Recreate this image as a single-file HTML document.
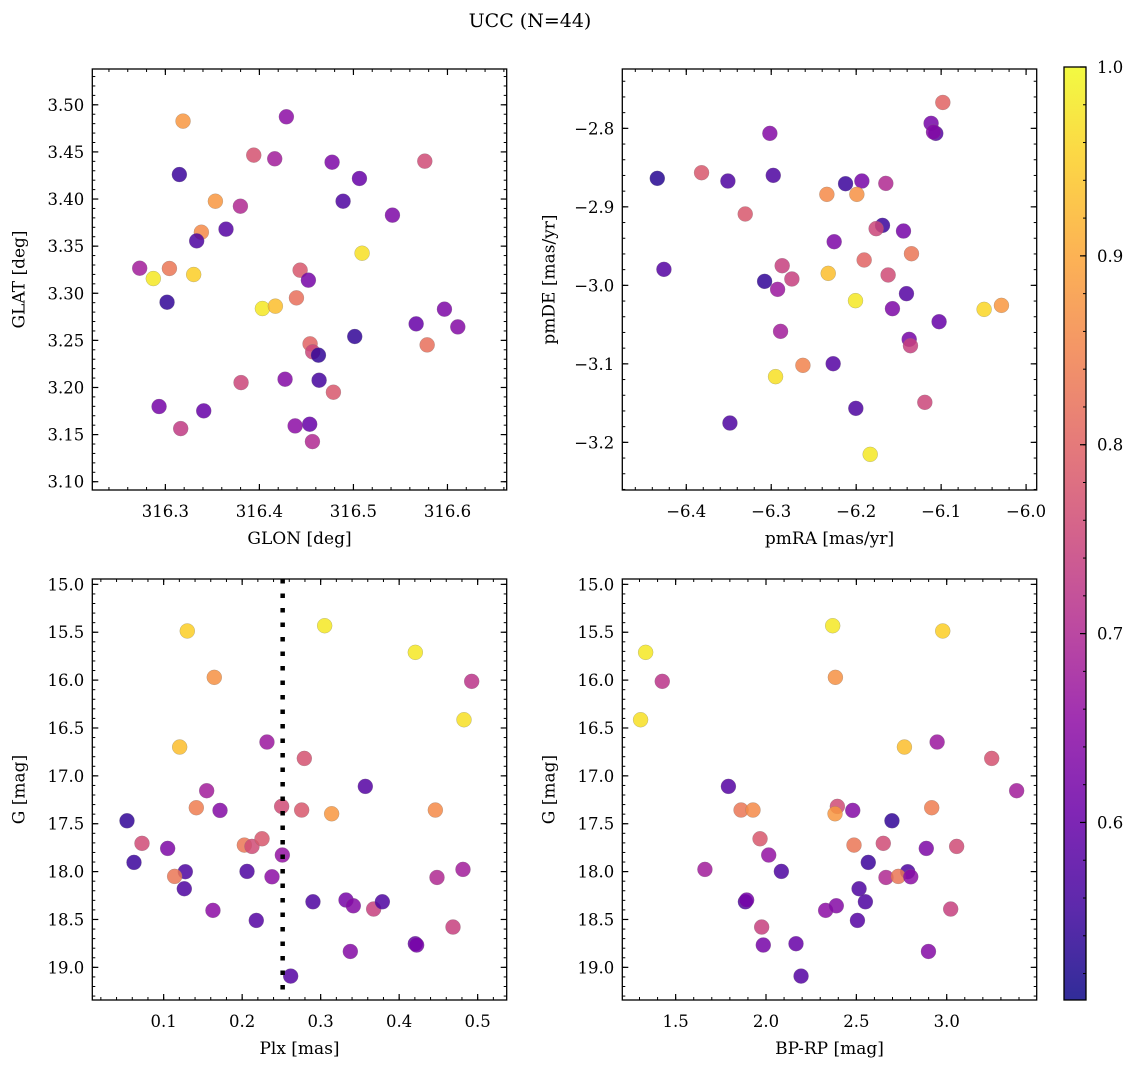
<!DOCTYPE html>
<html><head><meta charset="utf-8"><style>
html,body{margin:0;padding:0;background:#fff;}
svg{display:block;font-family:"DejaVu Serif","Liberation Serif",serif;}
</style></head><body>
<svg id="fig" width="1136" height="1067" viewBox="0 0 1136 1067" xmlns="http://www.w3.org/2000/svg">
<defs>
<linearGradient id="plasma" x1="0" y1="1" x2="0" y2="0">
<stop offset="0" stop-color="#0d0887"/><stop offset="0.1" stop-color="#41049d"/><stop offset="0.2" stop-color="#6a00a8"/><stop offset="0.3" stop-color="#8f0da4"/><stop offset="0.4" stop-color="#b12a90"/><stop offset="0.5" stop-color="#cc4778"/><stop offset="0.6" stop-color="#e16462"/><stop offset="0.7" stop-color="#f2844b"/><stop offset="0.8" stop-color="#fca636"/><stop offset="0.9" stop-color="#fcce25"/><stop offset="1" stop-color="#f0f921"/>
</linearGradient>
</defs>
<text x="530" y="27" font-size="19" text-anchor="middle">UCC (N=44)</text>
</svg>
<script>
// Panel 1: GLON vs GLAT
const glonVals=[316.3188,316.4287,316.394,316.4163,316.4773,316.5759,316.3149,316.5064,316.3532,316.489,316.3798,316.5415,316.3645,316.3383,316.3333,316.5092,316.2727,316.3043,316.2872,316.3301,316.4433,316.4521,316.3018,316.4032,316.417,316.4394,316.5667,316.5968,316.611,316.5014,316.5784,316.4539,316.4567,316.4628,316.3805,316.4273,316.4635,316.4787,316.2933,316.3408,316.3163,316.438,316.4535,316.4564];
const glatVals=[3.4827,3.4873,3.4466,3.4427,3.4391,3.4402,3.426,3.4218,3.3977,3.3977,3.3924,3.3829,3.368,3.3648,3.3556,3.3425,3.3266,3.3263,3.3156,3.3199,3.3245,3.3139,3.2905,3.2838,3.2863,3.2951,3.2675,3.2831,3.2643,3.2541,3.2452,3.2463,3.2378,3.2343,3.2052,3.2088,3.2077,3.195,3.1798,3.1752,3.1564,3.1592,3.161,3.1426];
const probP1=[0.88,0.65,0.77,0.68,0.63,0.76,0.55,0.6,0.88,0.57,0.7,0.63,0.58,0.86,0.57,0.97,0.68,0.83,0.98,0.95,0.78,0.62,0.54,0.98,0.93,0.82,0.6,0.63,0.64,0.54,0.82,0.8,0.75,0.54,0.75,0.64,0.56,0.78,0.62,0.6,0.73,0.65,0.6,0.7];
// Panel 2: pmRA vs pmDE
const pmraVals=[-6.098,-6.1118,-6.1063,-6.109,-6.3016,-6.4341,-6.382,-6.351,-6.2976,-6.2125,-6.1933,-6.1651,-6.2345,-6.1992,-6.3306,-6.169,-6.1765,-6.1443,-6.2259,-6.1349,-6.1906,-6.2871,-6.2757,-6.2329,-6.1624,-6.4263,-6.3078,-6.2925,-6.1408,-6.2008,-6.1573,-6.0494,-6.029,-6.1024,-6.289,-6.1376,-6.1361,-6.2627,-6.2949,-6.2271,-6.1192,-6.2004,-6.3486,-6.1835];
const pmdeVals=[-2.767,-2.7936,-2.8064,-2.8047,-2.8064,-2.8637,-2.8565,-2.8671,-2.8599,-2.8705,-2.8671,-2.8701,-2.8841,-2.8841,-2.9091,-2.9236,-2.9278,-2.9308,-2.9444,-2.9597,-2.9677,-2.975,-2.9919,-2.9847,-2.9868,-2.9796,-2.9949,-3.0051,-3.0106,-3.0195,-3.0297,-3.0306,-3.0255,-3.0463,-3.0586,-3.0688,-3.0769,-3.1019,-3.1163,-3.0998,-3.149,-3.1567,-3.1754,-3.2153];
const probP2=[0.8,0.62,0.58,0.64,0.64,0.53,0.78,0.57,0.57,0.55,0.62,0.7,0.86,0.87,0.78,0.55,0.75,0.62,0.63,0.83,0.8,0.74,0.74,0.93,0.76,0.58,0.54,0.67,0.58,0.98,0.63,0.96,0.88,0.6,0.68,0.62,0.74,0.85,0.97,0.58,0.75,0.57,0.57,0.98];
// Panel 3: Plx vs G
const plxVals=[0.1301,0.3051,0.4206,0.1645,0.4924,0.4826,0.1204,0.2316,0.2792,0.3569,0.1548,0.1416,0.1718,0.2503,0.2758,0.314,0.4461,0.0533,0.0724,0.1051,0.2028,0.2125,0.2253,0.2512,0.0622,0.1276,0.114,0.1263,0.2062,0.238,0.4482,0.4813,0.2902,0.3323,0.3416,0.3675,0.3786,0.1628,0.218,0.4686,0.4206,0.4223,0.3378,0.2618];
const gMagP3=[15.487,15.432,15.71,15.971,16.013,16.414,16.699,16.647,16.818,17.11,17.155,17.333,17.361,17.319,17.357,17.396,17.357,17.469,17.705,17.758,17.723,17.737,17.657,17.827,17.904,18.001,18.05,18.179,17.998,18.054,18.061,17.977,18.315,18.297,18.357,18.391,18.315,18.405,18.51,18.579,18.753,18.767,18.834,19.091];
const probP3=[0.95,0.98,0.98,0.87,0.72,0.97,0.93,0.67,0.77,0.58,0.68,0.84,0.64,0.76,0.78,0.88,0.86,0.54,0.76,0.63,0.83,0.76,0.78,0.66,0.55,0.57,0.83,0.57,0.57,0.65,0.7,0.68,0.57,0.62,0.64,0.74,0.57,0.65,0.58,0.74,0.6,0.62,0.64,0.58];
const plxLine=0.2516;
// Panel 4: BP-RP vs G
const bprpVals=[1.334,2.369,2.978,1.426,2.384,1.306,2.766,2.947,3.249,1.792,3.387,1.862,1.928,2.395,2.382,2.48,2.917,2.697,1.967,2.487,2.649,2.887,3.055,2.015,1.662,2.085,2.566,2.784,2.664,2.732,2.801,2.515,1.886,1.893,2.55,2.33,2.389,3.022,2.506,1.976,1.985,2.166,2.899,2.194];
const gMagP4=[15.71,15.432,15.487,16.013,15.971,16.414,16.699,16.647,16.818,17.11,17.155,17.357,17.357,17.319,17.396,17.361,17.333,17.469,17.657,17.723,17.705,17.758,17.737,17.827,17.977,17.998,17.904,18.001,18.061,18.05,18.054,18.179,18.315,18.297,18.315,18.405,18.357,18.391,18.51,18.579,18.767,18.753,18.834,19.091];
const probP4=[0.98,0.98,0.95,0.72,0.87,0.97,0.93,0.67,0.77,0.58,0.68,0.83,0.86,0.76,0.88,0.64,0.84,0.54,0.78,0.83,0.76,0.63,0.76,0.66,0.68,0.57,0.55,0.57,0.7,0.83,0.65,0.57,0.57,0.62,0.57,0.65,0.64,0.74,0.58,0.74,0.62,0.6,0.64,0.58];
// Colorbar
const cbarTicks=[0.6,0.7,0.8,0.9,1.0];
const cMin=0.506, cMax=1.0;

const NS="http://www.w3.org/2000/svg";
const svg=document.getElementById('fig');
function mk(tag,attrs,parent){const e=document.createElementNS(NS,tag);for(const k in attrs)e.setAttribute(k,attrs[k]);(parent||svg).appendChild(e);return e;}
const stops=[[0,[13,8,135]],[0.1,[65,4,157]],[0.2,[106,0,168]],[0.3,[143,13,164]],[0.4,[177,42,144]],[0.5,[204,71,120]],[0.6,[225,100,98]],[0.7,[242,132,75]],[0.8,[252,166,54]],[0.9,[252,206,37]],[1,[240,249,33]]];
function plasma(v){let t=(v-cMin)/(cMax-cMin);t=Math.max(0,Math.min(1,t));for(let i=0;i<stops.length-1;i++){if(t<=stops[i+1][0]){const f=(t-stops[i][0])/(stops[i+1][0]-stops[i][0]);const a=stops[i][1],b=stops[i+1][1];return 'rgb('+a.map((c,j)=>Math.round(c+(b[j]-c)*f)).join(',')+')';}}return 'rgb(240,249,33)';}
function fmt(v,d){const s=Math.abs(v).toFixed(d);return (v<-1e-9?'\u2212':'')+s;}

const panels=[
 {name:'glon-glat',L:92.3,R:506.7,T:69,B:490,xmin:316.2223,xmax:316.663,ymin:3.0912,ymax:3.538,inv:false,xt:[316.3,316.4,316.5,316.6],xd:1,xm:0.02,yt:[3.10,3.15,3.20,3.25,3.30,3.35,3.40,3.45,3.50],yd:2,ym:0.01,xl:'GLON [deg]',yl:'GLAT [deg]',X:glonVals,Y:glatVals,C:probP1},
 {name:'pmra-pmde',L:622.3,R:1036.7,T:69,B:490,xmin:-6.4753,xmax:-5.9875,ymin:-3.2607,ymax:-2.7244,inv:false,xt:[-6.4,-6.3,-6.2,-6.1,-6.0],xd:1,xm:0.02,yt:[-3.2,-3.1,-3.0,-2.9,-2.8],yd:1,ym:0.02,xl:'pmRA [mas/yr]',yl:'pmDE [mas/yr]',X:pmraVals,Y:pmdeVals,C:probP2},
 {name:'plx-g',L:92.3,R:506.7,T:579,B:1000,xmin:0.0091,xmax:0.537,ymin:14.944,ymax:19.341,inv:true,xt:[0.1,0.2,0.3,0.4,0.5],xd:1,xm:0.02,yt:[15,15.5,16,16.5,17,17.5,18,18.5,19],yd:1,ym:0.1,xl:'Plx [mas]',yl:'G [mag]',X:plxVals,Y:gMagP3,C:probP3,vline:plxLine},
 {name:'bprp-g',L:622.3,R:1036.7,T:579,B:1000,xmin:1.2048,xmax:3.498,ymin:14.944,ymax:19.341,inv:true,xt:[1.5,2.0,2.5,3.0],xd:1,xm:0.1,yt:[15,15.5,16,16.5,17,17.5,18,18.5,19],yd:1,ym:0.1,xl:'BP-RP [mag]',yl:'G [mag]',X:bprpVals,Y:gMagP4,C:probP4}
];
panels.forEach(p=>{
 const g=mk('g',{});
 
 
 const sx=v=>p.L+(v-p.xmin)/(p.xmax-p.xmin)*(p.R-p.L);
 const sy=v=>p.inv?p.T+(v-p.ymin)/(p.ymax-p.ymin)*(p.B-p.T):p.B-(v-p.ymin)/(p.ymax-p.ymin)*(p.B-p.T);
 const mx0=Math.ceil(p.xmin/p.xm-1e-6),mx1=Math.floor(p.xmax/p.xm+1e-6);
 for(let i=mx0;i<=mx1;i++){const x=sx(i*p.xm);mk('line',{x1:x,x2:x,y1:p.B,y2:p.B-3,stroke:'#000','stroke-width':1},g);mk('line',{x1:x,x2:x,y1:p.T,y2:p.T+3,stroke:'#000','stroke-width':1},g);}
 const lo=Math.min(p.ymin,p.ymax),hi=Math.max(p.ymin,p.ymax);
 const my0=Math.ceil(lo/p.ym-1e-6),my1=Math.floor(hi/p.ym+1e-6);
 for(let i=my0;i<=my1;i++){const y=sy(i*p.ym);mk('line',{x1:p.L,x2:p.L+3,y1:y,y2:y,stroke:'#000','stroke-width':1},g);mk('line',{x1:p.R,x2:p.R-3,y1:y,y2:y,stroke:'#000','stroke-width':1},g);}
 p.xt.forEach(v=>{const x=sx(v);mk('line',{x1:x,x2:x,y1:p.B,y2:p.B-6,stroke:'#000','stroke-width':1.2},g);mk('line',{x1:x,x2:x,y1:p.T,y2:p.T+6,stroke:'#000','stroke-width':1.2},g);
  const t=mk('text',{x:x,y:p.B+27,'font-size':16.5,'text-anchor':'middle'},g);t.textContent=fmt(v,p.xd);
  
  });
 p.yt.forEach(v=>{const y=sy(v);mk('line',{x1:p.L,x2:p.L+6,y1:y,y2:y,stroke:'#000','stroke-width':1.2},g);mk('line',{x1:p.R,x2:p.R-6,y1:y,y2:y,stroke:'#000','stroke-width':1.2},g);
  const t=mk('text',{x:p.L-8,y:y+6,'font-size':16.5,'text-anchor':'end'},g);t.textContent=fmt(v,p.yd);
  
  });
 for(let i=0;i<p.X.length;i++){
  const c=mk('circle',{cx:sx(p.X[i]),cy:sy(p.Y[i]),r:7.5,fill:plasma(p.C[i]),'fill-opacity':0.85,stroke:'#777','stroke-width':0.4,'stroke-opacity':0.6},g);
  
  
 }
 if(p.vline!==undefined){const x=sx(p.vline);const l=mk('line',{x1:x,x2:x,y1:p.T,y2:p.B,stroke:'#000','stroke-width':4.5,'stroke-dasharray':'4.5 10'},g);
  
  }
 const fr=mk('rect',{x:p.L,y:p.T,width:p.R-p.L,height:p.B-p.T,fill:'none',stroke:'#000','stroke-width':1.3},g);
 
 
 const xl=mk('text',{x:(p.L+p.R)/2,y:p.B+54,'font-size':17,'text-anchor':'middle'},g);xl.textContent=p.xl;
 
 
 const yx=p.L-68,yc=(p.T+p.B)/2;
 const yl=mk('text',{x:yx,y:yc,'font-size':17,'text-anchor':'middle',transform:'rotate(-90 '+yx+' '+yc+')'},g);yl.textContent=p.yl;
 
 
});
const cb=mk('g',{});


const cL=1064,cR=1086,cT=67,cB=1000;
const cy=v=>cB-(v-cMin)/(cMax-cMin)*(cB-cT);
mk('rect',{x:cL,y:cT,width:cR-cL,height:cB-cT,fill:'url(#plasma)','fill-opacity':0.85},cb);
for(let v=0.52;v<cMax-1e-6;v+=0.02){const y=cy(v);mk('line',{x1:cR,x2:cR-3,y1:y,y2:y,stroke:'#000','stroke-width':1},cb);}
cbarTicks.forEach(v=>{const y=cy(v);mk('line',{x1:cR,x2:cR-6,y1:y,y2:y,stroke:'#000','stroke-width':1.2},cb);
 const t=mk('text',{x:cR+11,y:y+6,'font-size':16.5},cb);t.textContent=v.toFixed(1);
 
 });
mk('rect',{x:cL,y:cT,width:cR-cL,height:cB-cT,fill:'none',stroke:'#000','stroke-width':1.3},cb);
</script>
</body></html>
